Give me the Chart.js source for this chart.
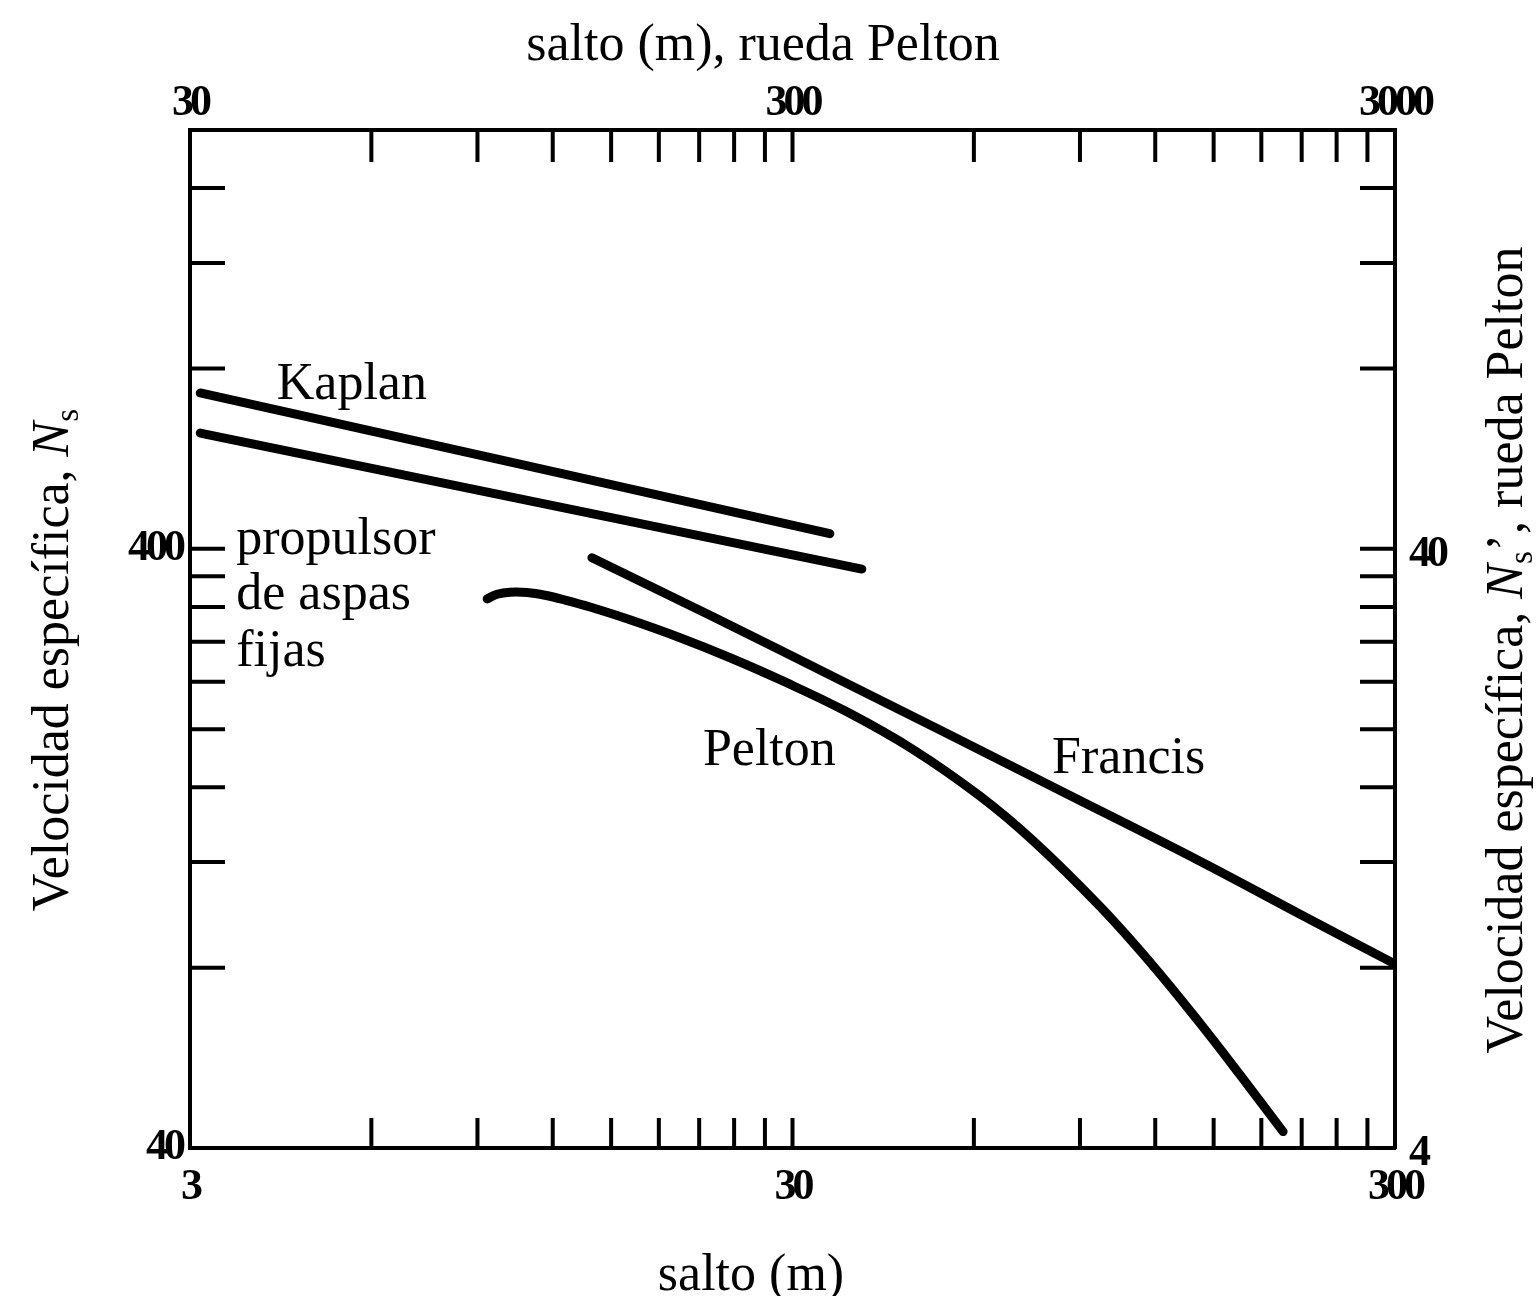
<!DOCTYPE html>
<html lang="es">
<head>
    <meta charset="UTF-8">
    <title>Velocidad específica de turbinas</title>
    <script src="https://cdn.jsdelivr.net/npm/chart.js"></script>
    <style>
        body { margin: 0; background: #fff; }
        #wrap { width: 1540px; height: 1296px; }
    </style>
</head>
<body>
    <div id="wrap"><canvas id="turbinas"></canvas></div>

    <script>
        // marcas de los ejes (escala log)
        const saltoTicks = [6, 9, 12, 15, 18, 21, 24, 27, 30, 60, 90, 120, 150, 180, 210, 240, 270];
        const saltoPeltonTicks = [60, 90, 120, 150, 180, 210, 240, 270, 300, 600, 900, 1200, 1500, 1800, 2100, 2400, 2700];
        const nsTicks = [80, 120, 160, 200, 240, 280, 320, 360, 400, 800, 1200, 1600];
        const nsPeltonTicks = [8, 12, 16, 20, 24, 28, 32, 36, 40, 80, 120, 160];

        const saltoLabels = [3, 30, 300];
        const saltoPeltonLabels = [30, 300, 3000];
        const nsLabels = [40, 400];
        const nsPeltonLabels = [4, 40];

        // curvas (salto en m, Ns)
        const kaplanSalto = [3.12, 10.58, 34.6];
        const kaplanNs = [728, 554, 424];

        const propulsorSalto = [3.12, 39.1];
        const propulsorNs = [624, 370];

        const francisSalto = [13.94, 22.14, 36.94, 54.15, 83.4, 142.4, 208.7, 298];
        const francisNs = [386.4, 308.1, 238.3, 196.7, 158.0, 120.4, 98.2, 81.4];

        // Pelton va en los ejes de arriba y de la derecha
        const peltonSalto = [93.4, 97.0, 101.9, 108.8, 116.5, 125.8, 138.4, 161.2, 195.2, 236.3, 286, 369.3, 475.5, 614.3, 752.2, 971.4, 1176, 1424, 1659, 1956];
        const peltonNs = [33.0, 33.59, 33.85, 33.81, 33.46, 32.85, 31.98, 30.45, 28.42, 26.32, 24.19, 21.38, 18.50, 15.46, 13.03, 10.12, 8.17, 6.46, 5.30, 4.26];

        // rótulos dentro del gráfico (en unidades de los ejes de abajo / izquierda)
        const rotulos = [
            { text: 'Kaplan', x: 4.18, y: 711 },
            { text: 'propulsor', x: 3.58, y: 392 },
            { text: 'de aspas', x: 3.58, y: 318 },
            { text: 'fijas', x: 3.58, y: 255 },
            { text: 'Pelton', x: 21.3, y: 174 },
            { text: 'Francis', x: 80.9, y: 169 }
        ];

        const serif = '"Liberation Serif", "DejaVu Serif", serif';

        function pares(xs, ys) {
            return xs.map((x, i) => ({ x: x, y: ys[i] }));
        }

        function eje(position, min, max) {
            return {
                type: 'logarithmic',
                position: position,
                min: min,
                max: max,
                ticks: { display: false },
                grid: { display: false, drawTicks: false },
                border: { display: true, color: '#000', width: 4 }
            };
        }

        function textoRico(ctx, partes, x, y, rot) {
            ctx.save();
            ctx.translate(x, y);
            ctx.rotate(rot);
            let total = 0;
            partes.forEach(p => { ctx.font = p.font; total += ctx.measureText(p.t).width; });
            let cx = -total / 2;
            ctx.textAlign = 'left';
            ctx.textBaseline = 'alphabetic';
            partes.forEach(p => {
                ctx.font = p.font;
                ctx.fillText(p.t, cx, p.dy || 0);
                cx += ctx.measureText(p.t).width;
            });
            ctx.restore();
        }

        const marco = {
            id: 'marco',
            afterDraw(chart) {
                const ctx = chart.ctx;
                const a = chart.chartArea;
                const s = chart.scales;
                ctx.save();
                ctx.strokeStyle = '#000';
                ctx.fillStyle = '#000';
                ctx.lineWidth = 4;

                // marcas hacia dentro
                ctx.beginPath();
                saltoTicks.forEach(v => {
                    const p = s.x.getPixelForValue(v);
                    ctx.moveTo(p, a.bottom); ctx.lineTo(p, a.bottom - 30);
                });
                saltoPeltonTicks.forEach(v => {
                    const p = s.x2.getPixelForValue(v);
                    ctx.moveTo(p, a.top); ctx.lineTo(p, a.top + 32);
                });
                nsTicks.forEach(v => {
                    const p = s.y.getPixelForValue(v);
                    ctx.moveTo(a.left, p); ctx.lineTo(a.left + 35, p);
                });
                nsPeltonTicks.forEach(v => {
                    const p = s.y2.getPixelForValue(v);
                    ctx.moveTo(a.right, p); ctx.lineTo(a.right - 35, p);
                });
                ctx.stroke();

                // números de los ejes
                ctx.font = 'bold 44px ' + serif;
                ctx.letterSpacing = '-4px';
                ctx.textAlign = 'center';
                ctx.textBaseline = 'top';
                saltoLabels.forEach(v => ctx.fillText(String(v), s.x.getPixelForValue(v), a.bottom + 18));
                ctx.textBaseline = 'bottom';
                saltoPeltonLabels.forEach(v => ctx.fillText(String(v), s.x2.getPixelForValue(v), a.top - 4));
                ctx.textBaseline = 'middle';
                ctx.textAlign = 'right';
                nsLabels.forEach(v => ctx.fillText(String(v), a.left - 8, s.y.getPixelForValue(v)));
                ctx.textAlign = 'left';
                nsPeltonLabels.forEach(v => ctx.fillText(String(v), a.right + 14, s.y2.getPixelForValue(v) + 6));
                ctx.letterSpacing = '0px';

                // títulos
                ctx.font = '52px ' + serif;
                ctx.textAlign = 'center';
                ctx.textBaseline = 'alphabetic';
                ctx.fillText('salto (m), rueda Pelton', 763, 60);
                ctx.fillText('salto (m)', 751, 1290);

                const normal = '52px ' + serif;
                const ital = 'italic 52px ' + serif;
                const sub = '33px ' + serif;
                textoRico(ctx, [
                    { t: 'Velocidad específica, ', font: normal },
                    { t: 'N', font: ital },
                    { t: 's', font: sub, dy: 10 }
                ], 68, 660, -Math.PI / 2);
                textoRico(ctx, [
                    { t: 'Velocidad específica, ', font: normal },
                    { t: 'N', font: ital },
                    { t: 's', font: sub, dy: 10 },
                    { t: '\u2019, rueda Pelton', font: normal }
                ], 1522, 650, -Math.PI / 2);

                // rótulos de las curvas
                ctx.font = '52px ' + serif;
                ctx.textAlign = 'left';
                rotulos.forEach(r => ctx.fillText(r.text, s.x.getPixelForValue(r.x), s.y.getPixelForValue(r.y)));

                ctx.restore();
            }
        };

        const ctx = document.getElementById('turbinas').getContext('2d');
        const chart = new Chart(ctx, {
            type: 'line',
            data: {
                datasets: [
                    { label: 'Kaplan', data: pares(kaplanSalto, kaplanNs), xAxisID: 'x', yAxisID: 'y', tension: 0 },
                    { label: 'propulsor de aspas fijas', data: pares(propulsorSalto, propulsorNs), xAxisID: 'x', yAxisID: 'y', tension: 0 },
                    { label: 'Francis', data: pares(francisSalto, francisNs), xAxisID: 'x', yAxisID: 'y', tension: 0.4 },
                    { label: 'Pelton', data: pares(peltonSalto, peltonNs), xAxisID: 'x2', yAxisID: 'y2', tension: 0.4 }
                ]
            },
            options: {
                responsive: true,
                maintainAspectRatio: false,
                animation: false,
                layout: { padding: { left: 190, right: 145, top: 130, bottom: 148 } },
                plugins: {
                    legend: { display: false },
                    tooltip: { enabled: false }
                },
                elements: {
                    point: { radius: 0 },
                    line: { borderWidth: 9, borderColor: '#000', borderCapStyle: 'round', borderJoinStyle: 'round', fill: false }
                },
                scales: {
                    x: eje('bottom', 3, 300),
                    x2: eje('top', 30, 3000),
                    y: eje('left', 40, 2000),
                    y2: eje('right', 4, 200)
                }
            },
            plugins: [marco]
        });
    </script>
</body>
</html>
